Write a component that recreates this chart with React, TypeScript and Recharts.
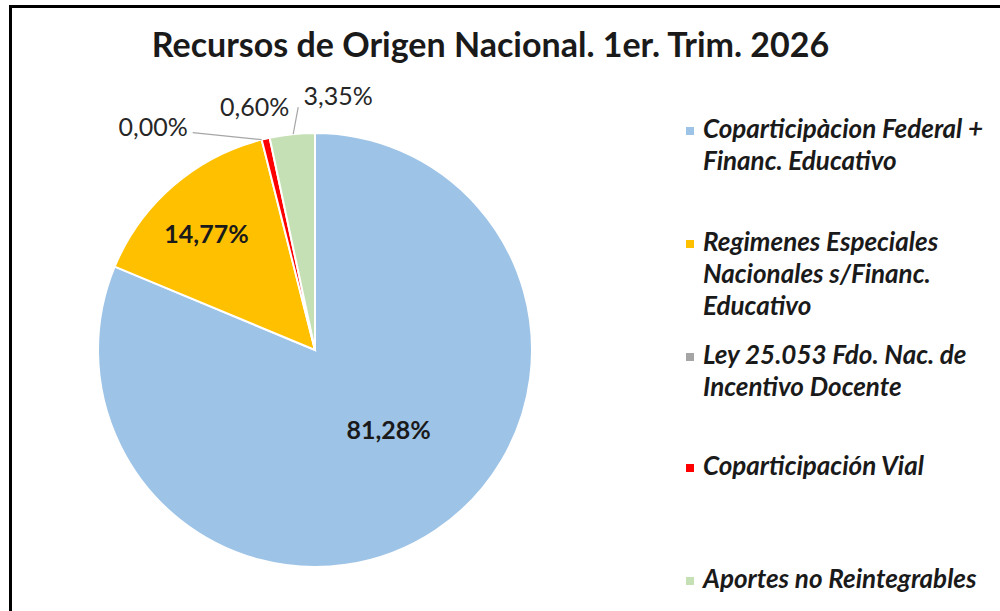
import React from 'react';
import { PieChart, Pie, Cell, Legend } from 'recharts';

// Recursos de Origen Nacional, 1er. trimestre 2026 (participación %)
const categories = [
    'Coparticipàcion Federal + Financ. Educativo',
    'Regimenes Especiales Nacionales s/Financ. Educativo',
    'Ley 25.053 Fdo. Nac. de Incentivo Docente',
    'Coparticipación Vial',
    'Aportes no Reintegrables',
];
const legendLines = [
    ['Coparticipàcion Federal +', 'Financ. Educativo'],
    ['Regimenes Especiales', 'Nacionales s/Financ.', 'Educativo'],
    ['Ley 25.053 Fdo. Nac. de', 'Incentivo Docente'],
    ['Coparticipación Vial'],
    ['Aportes no Reintegrables'],
];
const shares = [81.28, 14.77, 0.0, 0.6, 3.35];
const colors = ['#9DC3E6', '#FFC000', '#A5A5A5', '#FF0000', '#C5E0B4'];

const chartData = categories.map((name, i) => ({ name, value: shares[i] }));

const FONT = 'Lato, "Open Sans", sans-serif';
const RAD = Math.PI / 180;
const legendTops = [112, 225, 338, 449, 562];

const fmt = (v: number) => v.toFixed(2).replace('.', ',') + '%';

const renderLabel = (props: any) => {
    const { cx, cy, midAngle, outerRadius, index, value } = props;
    const pt = (r: number) => ({
        x: cx + r * Math.cos(-midAngle * RAD),
        y: cy + r * Math.sin(-midAngle * RAD),
    });
    const text = fmt(Number(value));
    if (index === 0 || index === 1) {
        const p = pt(outerRadius * (index === 0 ? 0.52 : 0.73));
        const nudge = index === 0 ? { x: 11, y: -15 } : { x: -5, y: 3 };
        return (
            <text x={p.x + nudge.x} y={p.y + nudge.y} textAnchor="middle" dominantBaseline="central"
                fill="#1a1a1a" fontFamily={FONT} fontWeight={700} fontSize={25}>
                {text}
            </text>
        );
    }
    const e = pt(outerRadius);
    if (index === 2) {
        return (
            <g>
                <line x1={e.x - 69} y1={e.y - 7} x2={e.x} y2={e.y} stroke="#a6a6a6" strokeWidth={1.2} />
                <text x={e.x - 74} y={e.y - 14} textAnchor="end" dominantBaseline="central"
                    fill="#262626" fontFamily={FONT} fontSize={25}>{text}</text>
            </g>
        );
    }
    if (index === 3) {
        return (
            <text x={e.x - 11} y={e.y - 33} textAnchor="middle" dominantBaseline="central"
                fill="#262626" fontFamily={FONT} fontSize={25}>{text}</text>
        );
    }
    return (
        <g>
            <line x1={e.x + 6} y1={e.y - 27} x2={e.x + 1} y2={e.y} stroke="#a6a6a6" strokeWidth={1.2} />
            <text x={e.x + 46} y={e.y - 39} textAnchor="middle" dominantBaseline="central"
                fill="#262626" fontFamily={FONT} fontSize={25}>{text}</text>
        </g>
    );
};

const renderLegend = (props: any) => {
    const payload = props.payload || [];
    return (
        <div style={{ position: 'relative', width: 310, height: 611 }}>
            {payload.map((entry: any) => {
                const i = categories.indexOf(entry.value);
                if (i < 0) return null;
                return (
                    <div key={i} style={{ position: 'absolute', left: 0, top: legendTops[i], display: 'flex' }}>
                        <div style={{ width: 8, height: 8, background: colors[i], marginTop: 15, marginRight: 9 }} />
                        <div style={{ fontFamily: FONT, fontStyle: 'italic', fontWeight: 700, fontSize: 26,
                            lineHeight: '32px', color: '#1a1a1a', whiteSpace: 'nowrap' }}>
                            {legendLines[i].map((l, k) => <div key={k}>{l}</div>)}
                        </div>
                    </div>
                );
            })}
        </div>
    );
};

const App: React.FC = () => {
    return (
        <div style={{ position: 'absolute', left: 0, top: 0, width: 1000, height: 611, overflow: 'hidden', background: '#fff' }}>
            <div style={{ position: 'absolute', left: 9, top: 5, width: 1100, height: 800,
                borderLeft: '3px solid #000', borderTop: '3px solid #000' }} />
            <div style={{ position: 'absolute', left: 0, top: 23, width: 981, textAlign: 'center',
                fontFamily: FONT, fontWeight: 700, fontSize: 34, color: '#1a1a1a' }}>
                Recursos de Origen Nacional. 1er. Trim. 2026
            </div>
            <div style={{ position: 'absolute', left: 0, top: 0 }}>
                <PieChart width={1000} height={611} margin={{ top: 0, right: 0, bottom: 0, left: 0 }}>
                    <Pie
                        data={chartData}
                        dataKey="value"
                        nameKey="name"
                        cx={315}
                        cy={350}
                        outerRadius={217}
                        startAngle={90}
                        endAngle={-270}
                        stroke="#ffffff"
                        strokeWidth={2}
                        label={renderLabel}
                        labelLine={false}
                        isAnimationActive={false}
                    >
                        {chartData.map((d, i) => (
                            <Cell key={d.name} fill={colors[i]} />
                        ))}
                    </Pie>
                    <Legend
                        layout="vertical"
                        align="right"
                        verticalAlign="top"
                        content={renderLegend}
                        wrapperStyle={{ position: 'absolute', left: 686, top: 0, width: 310, height: 611 }}
                    />
                </PieChart>
            </div>
        </div>
    );
};

export default App;
